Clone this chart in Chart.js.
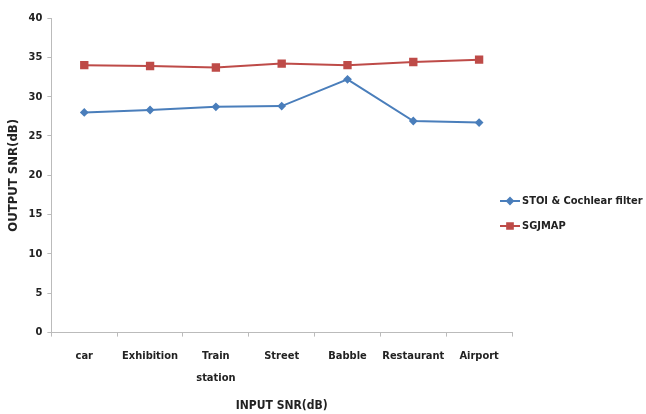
<!DOCTYPE html>
<html>
<head>
<meta charset="utf-8">
<script src="https://cdn.jsdelivr.net/npm/chart.js@4/dist/chart.umd.min.js"></script>
<style>
  html, body { margin: 0; padding: 0; background: #fff; }
  #wrap { width: 646px; height: 414px; }
</style>
</head>
<body>
<div id="wrap"><canvas id="myChart" width="646" height="414"></canvas></div>
<script>
const categories = ['car', 'Exhibition', ['Train', 'station'], 'Street', 'Babble', 'Restaurant', 'Airport'];
const stoiValues = [28.0, 28.3, 28.7, 28.8, 32.2, 26.9, 26.7];
const sgjmapValues = [34.0, 33.9, 33.7, 34.2, 34.0, 34.4, 34.7];
const seriesNames = ['STOI & Cochlear filter', 'SGJMAP'];
const yTicks = [0, 5, 10, 15, 20, 25, 30, 35, 40];

const font = 'DejaVu Sans Condensed';
const blue = '#4a7ebb';
const red = '#be4b48';

// draw the legend off to the right, excel style (line + marker)
const sideLegend = {
    id: 'sideLegend',
    afterDraw(chart) {
        const c = chart.ctx;
        const x = chart.chartArea.right - 12;
        const rows = [
            { name: seriesNames[0], color: blue, style: 'rectRot', r: 3, y: 201 },
            { name: seriesNames[1], color: red, style: 'rect', r: 4, y: 226 }
        ];
        c.save();
        rows.forEach(row => {
            c.strokeStyle = row.color;
            c.lineWidth = 2;
            c.beginPath();
            c.moveTo(x, row.y);
            c.lineTo(x + 20, row.y);
            c.stroke();
            c.fillStyle = row.color;
            Chart.helpers.drawPoint(c, { pointStyle: row.style, radius: row.r, borderWidth: 1 }, x + 10, row.y);
            c.fillStyle = '#222';
            c.font = 'bold 11px "' + font + '"';
            c.textBaseline = 'middle';
            c.fillText(row.name, x + 22, row.y);
        });
        c.restore();
    }
};

new Chart(document.getElementById('myChart').getContext('2d'), {
    type: 'line',
    data: {
        labels: categories,
        datasets: [{
            label: seriesNames[0],
            data: stoiValues,
            borderColor: blue,
            backgroundColor: blue,
            borderWidth: 2,
            pointStyle: 'rectRot',
            pointRadius: 3,
            tension: 0
        }, {
            label: seriesNames[1],
            data: sgjmapValues,
            borderColor: red,
            backgroundColor: red,
            borderWidth: 2,
            pointStyle: 'rect',
            pointRadius: 4.5,
            tension: 0
        }]
    },
    options: {
        responsive: false,
        animation: false,
        layout: { padding: { top: 18, right: 134, left: 6, bottom: 1 } },
        plugins: {
            legend: { display: false },
            tooltip: { enabled: false }
        },
        scales: {
            x: {
                offset: true,
                grid: { display: true, offset: true, drawOnChartArea: false, tickLength: 4, color: '#bbb' },
                border: { color: '#bbb', width: 1 },
                ticks: { color: '#222', font: { family: font, size: 11, weight: 'bold', lineHeight: 2 }, maxRotation: 0, autoSkip: false, padding: 9 },
                title: { display: true, text: 'INPUT SNR(dB)', color: '#222', font: { family: font, size: 12, weight: 'bold' }, padding: { top: 0, bottom: 0 } }
            },
            y: {
                min: 0,
                max: 40,
                afterBuildTicks: axis => { axis.ticks = yTicks.map(v => ({ value: v })); },
                grid: { display: true, drawOnChartArea: false, tickLength: 4, color: '#bbb' },
                border: { color: '#bbb', width: 1 },
                ticks: { color: '#222', font: { family: font, size: 11, weight: 'bold' }, padding: 5 },
                title: { display: true, text: 'OUTPUT SNR(dB)', color: '#222', font: { family: font, size: 13, weight: 'bold' }, padding: { top: 0, bottom: 2 } }
            }
        }
    },
    plugins: [sideLegend]
});
</script>
</body>
</html>
